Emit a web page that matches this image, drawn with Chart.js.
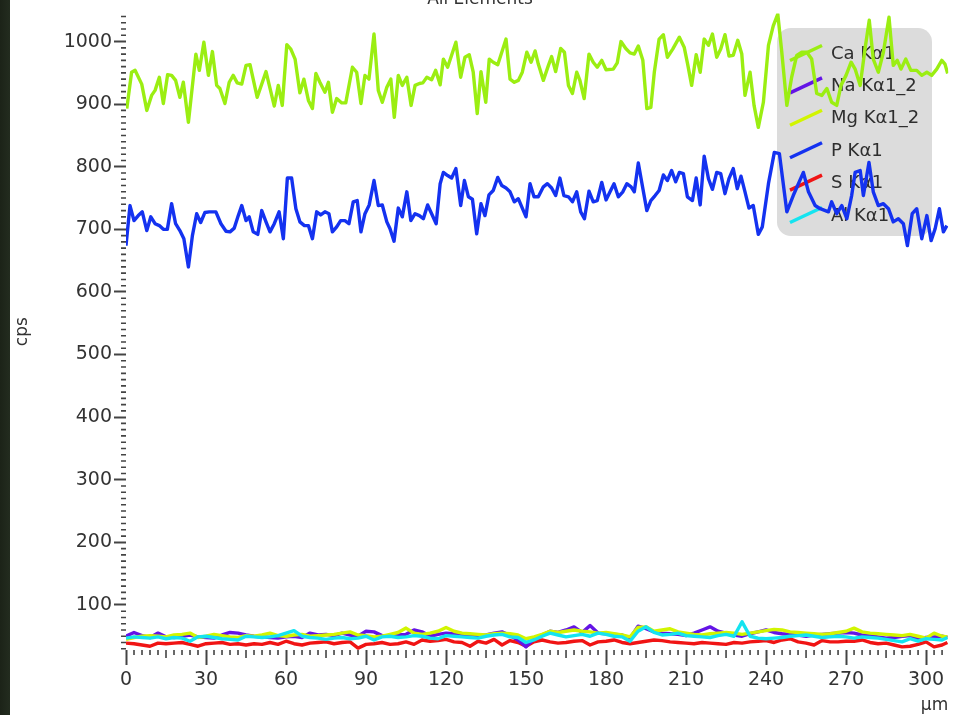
<!DOCTYPE html>
<html>
<head>
<meta charset="utf-8">
<script src="https://cdn.jsdelivr.net/npm/chart.js@4.4.1/dist/chart.umd.min.js"></script>
<style>
  html, body { margin: 0; padding: 0; }
  body {
    width: 973px; height: 715px; overflow: hidden;
    background: linear-gradient(to right, #1c2318 0, #232c1f 10px, #ffffff 10px);
  }
  canvas { display: block; }
</style>
</head>
<body>
<canvas id="c" width="973" height="715" style="width:973px;height:715px"></canvas>
<script>
// Line scan profile: counts per second along the scan (µm)
const chartTitle = 'All Elements';
const xAxisTitle = 'µm';
const yAxisTitle = 'cps';
const seriesNames = ['Ca Kα1', 'Na Kα1_2', 'Mg Kα1_2', 'P Kα1', 'S Kα1', 'Al Kα1'];
const seriesColors = ['#9bee12', '#6414e6', '#d2f500', '#1432f0', '#f01414', '#14e4f0'];

// Ca Kα1 profile: [position µm, cps]
const caProfile = [
  [0.3,893],[2.1,951],[3.4,954],[5.9,932],[7.8,890],[9.6,914],[10.9,922],[12.5,943],[14.0,901],[15.6,947],
  [17.1,946],[18.6,938],[20.2,911],[21.5,935],[23.4,871],[26.2,980],[27.5,954],[29.2,999],[30.9,946],[32.4,984],
  [34.0,930],[35.2,925],[37.1,901],[38.7,935],[40.2,946],[41.7,934],[43.4,932],[45.0,962],[46.5,963],[49.2,911],
  [52.5,952],[55.6,897],[57.1,930],[58.6,898],[60.3,995],[61.8,988],[63.4,972],[65.2,918],[66.7,940],[68.4,906],
  [69.9,893],[71.2,949],[72.7,935],[74.6,919],[75.9,935],[77.4,887],[79.0,909],[80.9,902],[82.4,902],[84.9,959],
  [86.5,951],[88.1,901],[89.6,946],[91.1,940],[93.0,1012],[94.6,922],[96.1,903],[97.8,927],[99.3,940],[100.6,879],
  [102.1,946],[103.6,930],[105.3,943],[106.9,898],[108.4,930],[110.0,933],[111.3,934],[112.8,943],[114.6,939],[116.1,954],
  [117.8,931],[119.0,972],[120.6,959],[123.7,999],[125.5,943],[127.1,975],[128.7,979],[130.2,951],[131.7,885],[133.1,952],
  [134.9,903],[136.2,972],[137.7,967],[139.4,963],[142.5,1004],[144.0,940],[145.6,935],[147.1,938],[148.6,951],[150.3,983],
  [151.9,967],[153.4,985],[154.6,964],[156.5,938],[158.4,962],[159.6,976],[161.1,952],[163.0,989],[164.4,983],[165.9,930],
  [167.4,917],[169.0,951],[170.2,938],[171.8,909],[173.6,980],[175.2,967],[176.7,959],[178.4,970],[180.0,955],[182.7,956],
  [184.2,966],[185.6,1000],[187.4,989],[189.0,982],[190.6,980],[192.1,993],[193.8,970],[195.3,893],[196.8,895],[198.1,951],
  [199.9,1004],[201.5,1011],[203.0,975],[205.0,988],[207.5,1007],[209.3,991],[210.6,964],[212.1,930],[213.8,979],[215.3,951],
  [216.8,1004],[218.4,994],[219.9,1012],[221.5,975],[223.0,988],[224.6,1011],[226.1,977],[227.7,978],[229.4,1002],[230.9,980],
  [232.1,914],[234.0,951],[235.5,898],[237.1,863],[239.0,903],[240.9,994],[242.7,1025],[244.4,1044],[245.9,983],[247.8,898],
  [249.6,943],[251.5,978],[253.4,983],[255.3,983],[257.1,972],[259.0,917],[260.9,914],[262.8,925],[264.6,903],[266.5,898],
  [268.1,930],[270.0,946],[271.9,967],[273.4,956],[275.3,930],[277.1,988],[278.7,1034],[280.2,972],[282.1,951],[284.0,983],
  [286.1,1039],[287.7,962],[289.2,970],[290.6,956],[292.4,972],[294.3,954],[296.5,954],[298.4,946],[300.3,951],[302.1,946],
  [304.0,956],[305.9,970],[307.1,964],[308.1,949]
];

// P Kα1 profile: [position µm, cps]
const pProfile = [
  [0.0,674],[1.5,738],[3.0,714],[4.6,722],[6.1,728],[7.8,698],[9.3,720],[10.9,709],[12.5,706],[14.0,700],
  [15.5,700],[17.1,741],[18.6,709],[20.2,698],[21.7,685],[23.4,640],[24.9,690],[26.5,725],[28.0,711],[29.6,727],
  [31.2,728],[33.7,728],[35.6,709],[37.5,697],[39.0,696],[40.6,702],[42.1,722],[43.4,738],[45.0,714],[46.2,720],
  [47.7,696],[49.4,692],[50.9,730],[52.5,712],[54.0,696],[55.6,709],[57.4,728],[59.0,685],[60.5,782],[62.1,782],
  [63.7,733],[65.2,712],[66.9,706],[68.4,706],[69.9,685],[71.5,728],[73.0,723],[74.6,728],[76.1,725],[77.4,696],
  [79.0,704],[80.5,714],[82.1,714],[83.6,709],[85.2,744],[86.7,746],[88.1,696],[89.6,725],[91.2,739],[93.0,778],
  [94.6,738],[96.1,739],[97.8,712],[99.0,701],[100.5,681],[102.1,734],[103.6,720],[105.3,760],[106.8,714],[108.4,725],
  [110.0,722],[111.5,717],[113.1,739],[114.6,725],[116.3,709],[117.8,773],[119.0,791],[120.6,786],[122.1,782],[123.7,797],
  [125.5,738],[126.9,778],[128.4,752],[129.9,748],[131.5,693],[133.1,741],[134.6,722],[136.1,755],[137.7,762],[139.4,783],
  [140.9,770],[142.5,766],[144.0,760],[145.6,744],[147.1,749],[148.6,734],[150.0,720],[151.5,773],[153.0,752],[154.6,752],
  [156.5,768],[158.0,773],[159.6,766],[161.1,754],[162.7,782],[164.2,754],[165.9,752],[167.4,744],[169.0,760],[170.5,728],
  [171.9,717],[173.6,761],[175.2,744],[176.7,746],[178.4,775],[180.0,747],[181.5,760],[183.0,773],[184.6,752],[186.3,760],
  [187.8,773],[189.4,768],[190.6,760],[192.1,806],[193.6,770],[195.3,730],[196.8,746],[198.4,754],[199.9,762],[201.5,787],
  [203.0,778],[204.6,794],[206.1,776],[207.5,791],[209.0,789],[210.5,752],[212.4,746],[213.8,782],[215.3,739],[216.8,817],
  [218.4,781],[219.9,764],[221.5,791],[223.0,789],[224.6,757],[226.1,781],[227.7,797],[229.2,765],[230.6,785],[232.1,760],
  [233.6,734],[235.2,738],[237.1,692],[238.6,704],[240.9,773],[243.1,823],[245.0,821],[247.8,728],[250.2,754],[254.0,791],
  [255.9,760],[258.4,738],[260.3,733],[263.4,728],[264.6,744],[266.5,725],[268.4,738],[270.3,717],[272.1,754],[273.4,791],
  [275.3,794],[276.5,754],[278.6,807],[280.2,760],[282.1,738],[284.0,741],[285.9,733],[287.7,712],[289.6,717],[291.5,709],
  [293.0,674],[294.8,725],[296.5,733],[298.4,685],[300.3,722],[301.9,682],[303.4,701],[305.0,733],[306.5,696],[307.8,706]
];

// Positions (µm) shared by the four low-count traces
const lowPositions = [
  0,3,6,9,12,15,18,21,24,27, 30,33,36,39,42,45,48,51,54,57,
  60,63,66,69,72,75,78,81,84,87, 90,93,96,99,102,105,108,111,114,117,
  120,123,126,129,132,135,138,141,144,147, 150,153,156,159,162,165,168,171,174,177,
  180,183,186,189,192,195,198,201,204,207, 210,213,216,219,222,225,228,231,234,237,
  240,243,246,249,252,255,258,261,264,267, 270,273,276,279,282,285,288,291,294,297,
  300,303,306,308
];
const naValues = [
  50,56,51,48,55,49,48,50,52,49, 48,47,52,56,55,52,50,49,48,47,
  49,50,48,55,52,53,51,55,52,50, 58,57,51,50,52,53,60,57,50,53,
  55,54,52,51,50,52,55,57,51,44, 33,46,52,58,56,60,65,56,67,55,
  54,53,52,47,66,62,57,55,54,53, 51,55,60,65,58,55,52,50,54,57,
  60,56,54,53,52,50,52,53,54,55, 56,55,52,51,49,47,48,50,51,46,
  48,49,50,48
];
const mgValues = [
  45,48,50,51,50,49,52,53,55,48, 50,53,51,49,48,51,50,52,55,51,
  50,52,53,50,51,52,53,55,57,52, 51,49,50,53,56,63,55,53,55,58,
  64,58,55,54,53,52,54,55,54,52, 46,49,53,58,56,58,60,58,57,55,
  56,54,52,49,64,65,58,60,62,57, 55,53,52,54,55,56,55,53,55,57,
  59,61,60,57,56,55,54,53,54,56, 58,63,57,55,54,53,52,51,53,50,
  47,55,50,49
];
const sValues = [
  39,38,36,34,39,38,39,40,37,34, 38,39,40,37,38,36,38,37,40,37,
  42,38,36,39,40,41,38,40,41,31, 37,38,40,37,38,41,37,44,42,43,
  45,41,40,34,42,39,45,36,43,40, 34,41,44,41,39,40,42,43,36,41,
  42,44,40,38,40,42,44,43,41,40, 39,38,40,39,38,37,40,39,41,42,
  43,40,44,46,41,39,36,43,41,41, 42,42,44,40,38,39,36,33,34,37,
  41,33,36,40
];
const alValues = [
  47,49,48,47,49,46,48,47,42,49, 50,48,46,45,44,50,49,48,49,51,
  55,59,50,48,47,45,47,48,46,47, 50,44,49,50,48,49,51,50,47,46,
  51,50,49,48,47,50,52,53,49,48, 40,44,50,55,52,49,51,53,50,55,
  53,50,49,42,58,65,56,52,53,55, 51,50,49,48,51,53,50,73,50,47,
  46,47,48,50,51,52,50,48,49,50, 49,47,49,48,47,45,43,41,46,42,
  46,45,44,48
];

const FONT = '"DejaVu Sans", sans-serif';
const pairUp = vals => lowPositions.map((p, i) => [p, vals[i]]);

const seriesData = [caProfile, pairUp(naValues), pairUp(mgValues), pProfile, pairUp(sValues), pairUp(alValues)];
// draw order: smaller number ends up on top
const drawOrder = [5, 2, 1, 4, 3, 0];

const datasets = seriesNames.map((name, i) => ({
  label: name,
  data: seriesData[i],
  borderColor: seriesColors[i],
  backgroundColor: seriesColors[i],
  borderWidth: 3.4,
  pointRadius: 0,
  tension: 0,
  borderJoinStyle: 'round',
  order: drawOrder[i]
}));

// title, legend panel and minor tick marks
const decor = {
  id: 'decor',
  beforeDatasetsDraw(chart) {
    const ctx = chart.ctx;
    ctx.save();
    ctx.fillStyle = '#333333';
    ctx.font = '17px ' + FONT;
    ctx.textAlign = 'center';
    ctx.textBaseline = 'alphabetic';
    ctx.fillText(chartTitle, 480, 4);

    ctx.fillStyle = '#dcdcdc';
    ctx.beginPath();
    ctx.roundRect(777, 28, 155, 208, 14);
    ctx.fill();

    ctx.font = '18px ' + FONT;
    ctx.textAlign = 'left';
    ctx.textBaseline = 'middle';
    seriesNames.forEach((name, i) => {
      const cy = 53 + i * 32.4;
      ctx.strokeStyle = seriesColors[i];
      ctx.lineWidth = 3.4;
      ctx.lineCap = 'butt';
      ctx.beginPath();
      ctx.moveTo(790, cy + 7.5);
      ctx.lineTo(822, cy - 7.5);
      ctx.stroke();
      ctx.fillStyle = '#2e2e2e';
      ctx.fillText(name, 831, cy + 1);
    });
    ctx.restore();
  },
  afterDraw(chart) {
    const ctx = chart.ctx;
    const xs = chart.scales.x, ys = chart.scales.y;
    const area = chart.chartArea;
    ctx.save();
    ctx.strokeStyle = '#444444';
    ctx.lineWidth = 1.6;
    ctx.beginPath();
    for (let v = 3; v <= xs.max; v += 3) {
      if (v % 30 === 0) continue;
      const len = (v % 15 === 0) ? 8 : 5;
      const px = xs.getPixelForValue(v);
      ctx.moveTo(px, area.bottom);
      ctx.lineTo(px, area.bottom + len);
    }
    for (let v = 30; v <= ys.max; v += 10) {
      if (v % 100 === 0) continue;
      const py = ys.getPixelForValue(v);
      ctx.moveTo(area.left - 5, py);
      ctx.lineTo(area.left, py);
    }
    ctx.stroke();
    ctx.restore();
  }
};

new Chart(document.getElementById('c'), {
  type: 'line',
  data: { datasets },
  options: {
    responsive: false,
    animation: false,
    events: [],
    layout: { padding: { left: 0, right: 24.8, top: 12.8, bottom: 0 } },
    plugins: {
      legend: { display: false },
      tooltip: { enabled: false },
      title: { display: false }
    },
    scales: {
      x: {
        type: 'linear',
        min: 0,
        max: 308.3,
        border: { display: false },
        grid: { drawOnChartArea: false, tickLength: 15, tickColor: '#444444', tickWidth: 2 },
        ticks: { stepSize: 30, includeBounds: false, color: '#333333', font: { family: FONT, size: 19 }, padding: 4, maxRotation: 0, callback: v => String(v) },
        title: { display: true, text: xAxisTitle, align: 'end', color: '#333333', font: { family: FONT, size: 17, lineHeight: 1 }, padding: { top: 0, bottom: 0.5 } },
        afterFit: s => { s.height = 65; }
      },
      y: {
        type: 'linear',
        min: 28,
        max: 1045,
        border: { display: false },
        grid: { drawOnChartArea: false, tickLength: 12, tickColor: '#444444', tickWidth: 2 },
        ticks: { stepSize: 100, includeBounds: false, color: '#333333', font: { family: FONT, size: 19 }, padding: 2, callback: v => String(v) },
        title: { display: true, text: yAxisTitle, color: '#333333', font: { family: FONT, size: 17, lineHeight: 1 }, padding: { top: 14, bottom: 0 } },
        afterFit: s => { s.width = 126; }
      }
    }
  },
  plugins: [decor]
});
</script>
</body>
</html>
